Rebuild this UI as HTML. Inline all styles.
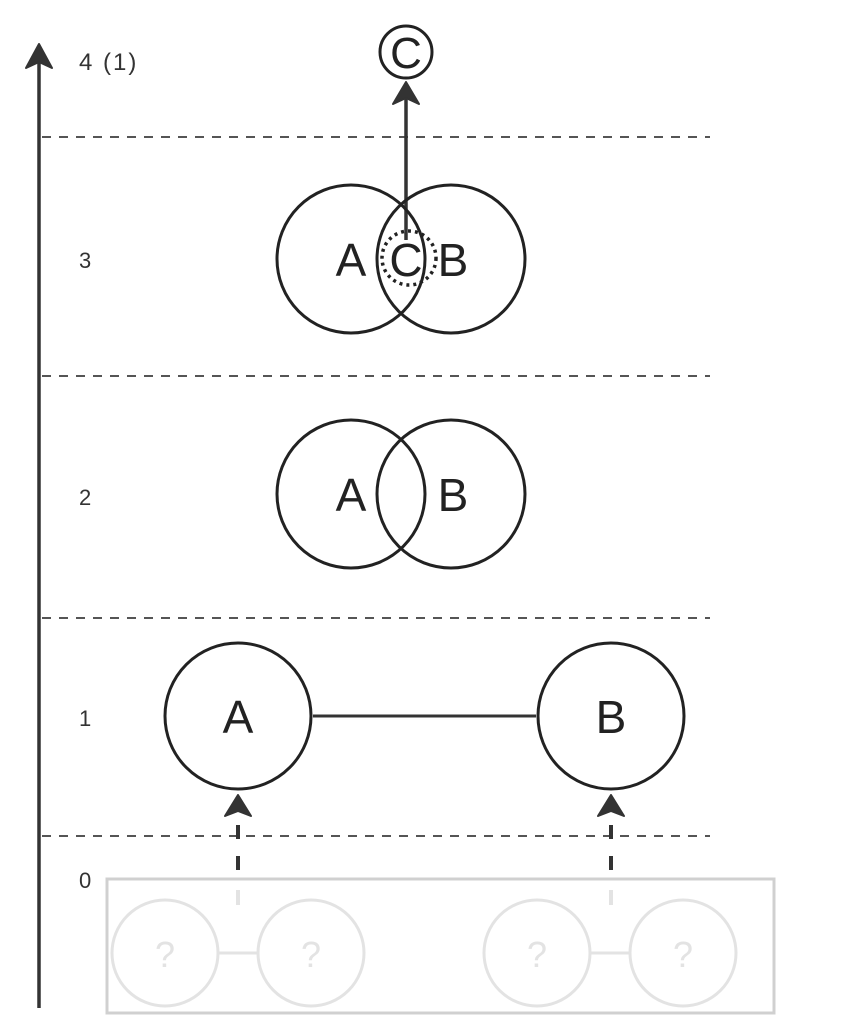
<!DOCTYPE html>
<html><head><meta charset="utf-8"><style>
html,body{margin:0;padding:0;background:#fff;}
svg{display:block;}
text{font-family:"Liberation Sans","Noto Sans CJK JP",sans-serif;}
</style></head><body>
<svg width="841" height="1024" viewBox="0 0 841 1024" xmlns="http://www.w3.org/2000/svg">
<line x1="39" y1="1008" x2="39" y2="60" stroke="#333" stroke-width="3.5"/>
<path d="M39 44 L26 68 L39 62 L52 68 Z" fill="#333" stroke="#333" stroke-width="2" stroke-linejoin="round"/>
<g stroke="#555" stroke-width="2" stroke-dasharray="9,8">
<line x1="42" y1="137" x2="710" y2="137"/>
<line x1="42" y1="376" x2="710" y2="376"/>
<line x1="42" y1="618" x2="710" y2="618"/>
<line x1="42" y1="836" x2="710" y2="836"/>
</g>
<g fill="#333" font-size="22">
<text x="79" y="70" font-size="24" font-family="'Liberation Mono',monospace" letter-spacing="2">4 (1)</text>
<text x="79" y="268">3</text>
<text x="79" y="505">2</text>
<text x="79" y="726">1</text>
<text x="79" y="888">0</text>
</g>
<circle cx="406" cy="52" r="26" fill="none" stroke="#222" stroke-width="3"/>
<text x="406" y="68" font-size="44" text-anchor="middle" fill="#222">C</text>
<line x1="406" y1="240" x2="406" y2="95" stroke="#333" stroke-width="3.5"/>
<path d="M406 82 L393 104 L406 98 L419 104 Z" fill="#333" stroke="#333" stroke-width="2" stroke-linejoin="round"/>
<g fill="none" stroke="#222" stroke-width="3">
<circle cx="351" cy="259" r="74"/>
<circle cx="451" cy="259" r="74"/>
</g>
<circle cx="409" cy="258" r="27" fill="none" stroke="#222" stroke-width="3.5" stroke-dasharray="3,4"/>
<g font-size="46" fill="#222" text-anchor="middle">
<text x="351" y="276">A</text>
<text x="406" y="276">C</text>
<text x="453" y="276">B</text>
</g>
<g fill="none" stroke="#222" stroke-width="3">
<circle cx="351" cy="494" r="74"/>
<circle cx="451" cy="494" r="74"/>
</g>
<g font-size="46" fill="#222" text-anchor="middle">
<text x="351" y="511">A</text>
<text x="453" y="511">B</text>
</g>
<g fill="none" stroke="#222" stroke-width="3">
<circle cx="238" cy="716" r="73"/>
<circle cx="611" cy="716" r="73"/>
</g>
<line x1="313" y1="716" x2="536" y2="716" stroke="#333" stroke-width="3"/>
<g font-size="46" fill="#222" text-anchor="middle">
<text x="238" y="733">A</text>
<text x="611" y="733">B</text>
</g>
<g stroke="#333" stroke-width="4" stroke-dasharray="14,17">
<line x1="238" y1="825" x2="238" y2="905"/>
<line x1="611" y1="825" x2="611" y2="905"/>
</g>
<path d="M238 795 L225 816 L238 811 L251 816 Z" fill="#333" stroke="#333" stroke-width="2" stroke-linejoin="round"/>
<path d="M611 795 L598 816 L611 811 L624 816 Z" fill="#333" stroke="#333" stroke-width="2" stroke-linejoin="round"/>
<rect x="107" y="879" width="667" height="134" fill="none" stroke="#d0d0d0" stroke-width="3"/>
<rect x="235" y="881" width="6" height="24" fill="#fff"/>
<rect x="608" y="881" width="6" height="24" fill="#fff"/>
<line x1="238" y1="890" x2="238" y2="905" stroke="#e3e3e3" stroke-width="4"/>
<line x1="611" y1="890" x2="611" y2="905" stroke="#e3e3e3" stroke-width="4"/>
<g fill="none" stroke="#e3e3e3" stroke-width="3">
<circle cx="165" cy="953" r="53"/>
<circle cx="311" cy="953" r="53"/>
<circle cx="537" cy="953" r="53"/>
<circle cx="683" cy="953" r="53"/>
<line x1="219" y1="953" x2="257" y2="953"/>
<line x1="591" y1="953" x2="629" y2="953"/>
</g>
<g font-size="36" fill="#e3e3e3" text-anchor="middle">
<text x="165" y="967">?</text>
<text x="311" y="967">?</text>
<text x="537" y="967">?</text>
<text x="683" y="967">?</text>
</g>
</svg>
</body></html>
